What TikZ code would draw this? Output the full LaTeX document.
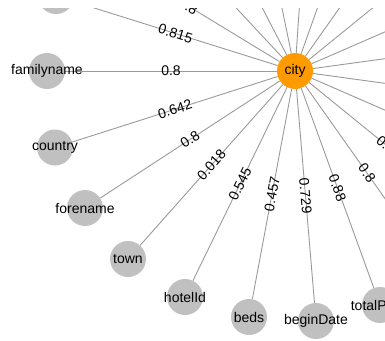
\documentclass[tikz,border=0pt]{standalone}
\usepackage{fontspec}
\setmainfont{Liberation Sans}
\usetikzlibrary{backgrounds}
\definecolor{edgegrey}{HTML}{9A9A9A}
\definecolor{nodegrey}{HTML}{C0C0C0}
\definecolor{huborange}{HTML}{FF9A00}
\begin{document}
\begin{tikzpicture}[x=1pt,y=-1pt,
  txt/.style={font=\fontsize{14}{16}\selectfont},
  attr/.style={circle, fill=nodegrey, minimum size=36pt, inner sep=0pt},
  hub/.style={attr, fill=huborange, txt},
  lbl/.style={txt, inner sep=0pt},
  link/.style={draw=edgegrey, line width=0.9pt},
  weight/.style={midway, sloped, txt, inner sep=0pt},
  viewport/.style={insert path={(0,8) rectangle (385,340)}}]
\useasboundingbox (0,0) rectangle (385,340);
\clip[viewport];

% central attribute
\node[hub] (city) at (295,71) {city};

% attributes in view
\node[attr] (top) at (56,-4) {};
\node[attr, label={[lbl]center:familyname}] (familyname) at (47,71) {};
\node[attr, label={[lbl]center:country}] (country) at (55,147.5) {};
\node[attr, label={[lbl]center:forename}] (forename) at (85,208) {};
\node[attr, label={[lbl]center:town}] (town) at (128,259) {};
\node[attr, label={[lbl]center:hotelId}] (hotelId) at (185,297) {};
\node[attr, label={[lbl]center:beds}] (beds) at (249,317) {};
\node[attr, label={[lbl]center:beginDate}] (beginDate) at (316,321) {};
\node[attr, label={[lbl]center:totalPrice}] (totalPrice) at (380,305) {};

% attributes on the ring beyond the frame
\foreach \a/\n in {211.3/r1, 227.0/r2, 242.6/r3, 258.3/r4, 273.9/r5,
                   289.6/r6, 305.2/r7, 320.9/r8, 336.5/r9, 352.2/r10,
                   7.8/r11, 23.5/r12, 39.1/r13, 54.8/r14}
  \node[attr] (\n) at ([shift={(\a:250)}]city) {};

\begin{scope}[on background layer]
  \clip[viewport];
  \draw[link] (city) -- node[weight] {0.815} (top);
  \draw[link] (city) -- node[weight] {0.8} (r1);
  \draw[link] (city) -- node[weight] {0.8} (familyname);
  \draw[link] (city) -- node[weight] {0.642} (country);
  \draw[link] (city) -- node[weight] {0.8} (forename);
  \draw[link] (city) -- node[weight] {0.018} (town);
  \draw[link] (city) -- node[weight] {0.545} (hotelId);
  \draw[link] (city) -- node[weight] {0.457} (beds);
  \draw[link] (city) -- node[weight] {0.729} (beginDate);
  \draw[link] (city) -- node[weight] {0.88} (totalPrice);
  \draw[link] (city) -- node[weight] {0.8} (r14);
  \draw[link] (city) -- node[weight] {0.645} (r13);
  \foreach \n in {r2,r3,r4,r5,r6,r7,r8,r9,r10,r11,r12}
    \draw[link] (city) -- (\n);
\end{scope}
\end{tikzpicture}
\end{document}
